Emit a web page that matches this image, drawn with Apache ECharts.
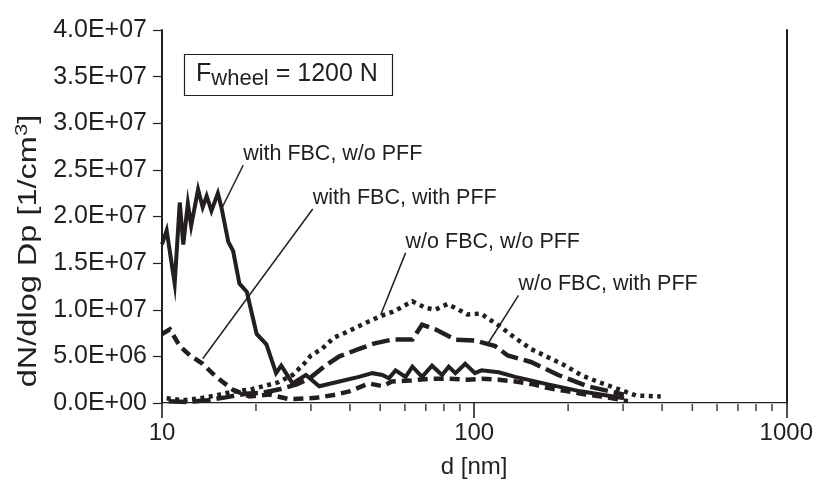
<!DOCTYPE html>
<html><head><meta charset="utf-8">
<script src="https://cdn.jsdelivr.net/npm/echarts@6/dist/echarts.min.js"></script>
<style>html,body{margin:0;padding:0;background:#fff}#c{width:816px;height:484px}</style>
</head><body><div id="c"></div>
<script>
const FONT = '"Liberation Sans", Arial, Helvetica, sans-serif';
const INK = '#231f20';

// ---- data (d in nm, values in units of 1e6 1/cm3) ----
const seriesNames = ['with FBC, w/o PFF', 'with FBC, with PFF', 'w/o FBC, w/o PFF', 'w/o FBC, with PFF'];

const solidD = [10.0,10.35,10.98,11.4,11.7,12.1,12.4,13.05,13.5,13.9,14.4,15.1,15.5,16.3,16.9,17.7,18.7,20.1,21.6,23.2,24.1,26.2,28.9,31.9,37.0,42.7,47.2,50.8,53.3,56.0,60.3,63.4,68.1,73.3,78.9,82.9,87.1,93.6,100.6,105.6,119.8,135.5,172.5,219.6,302];
const solidV = [17.0,18.5,12.8,21.5,17.0,21.4,19.0,22.9,21.0,22.2,20.6,22.5,21.0,17.3,16.3,12.8,11.9,7.4,6.3,3.2,4.0,2.1,3.0,1.8,2.3,2.8,3.2,3.0,2.65,3.5,2.8,3.9,2.8,4.0,3.0,3.9,3.2,4.2,3.2,3.5,3.3,2.8,2.0,1.25,0.5];

const dashD = [10.0,10.6,11.4,12.3,13.5,14.9,16.9,19.1,22.1,25.6,31.1,36.1,39.8,46.0,50.8,54.5,62,72,83,95,106,120,136,155,173,195,220,255,289,311];
const dashV = [7.4,7.9,6.1,5.1,4.2,2.8,1.4,0.7,0.9,0.4,0.55,0.9,1.25,2.1,1.8,2.3,2.4,2.6,2.6,2.5,2.6,2.5,2.3,2.0,1.6,1.3,1.0,0.7,0.4,0.2];

const dotD = [10.35,11.7,13.2,14.8,16.8,19.5,23.5,26.2,28.5,30.0,32.5,35.5,39,45,50,55,58,63.4,70,75,82,87,95,105,120,135,152,175,196,220,248,295,330,396];
const dotV = [0.5,0.3,0.5,0.8,1.2,1.5,2.2,3.0,4.2,5.1,5.8,7.0,7.6,8.6,9.3,9.8,10.2,10.9,10.2,10.0,10.6,10.2,9.5,9.6,8.3,7.0,5.8,4.8,4.0,3.0,2.3,1.4,0.8,0.7];

const longD = [10.5,12,14,16,18.5,21,24,27,29.7,33.5,37,42.8,48,54.6,63.4,68.1,75.1,87,100.6,116.8,128,152,186,231,302];
const longV = [0.2,0.1,0.3,0.6,1.0,1.1,1.5,2.0,2.65,4.05,5.0,5.8,6.4,6.8,6.8,8.4,7.9,6.8,6.7,6.1,5.1,4.4,3.0,1.8,0.9];

const yTicks = [0,5e6,1e7,1.5e7,2e7,2.5e7,3e7,3.5e7,4e7];
const xMinorTicks = [20,30,40,50,60,70,80,90,200,300,400,500,600,700,800,900];

// annotation leader lines: [labelAnchor [d, value], pointedAt [d, value]]
const leaders = [
  [[18.2, 2.55e7], [15.5, 2.08e7]],
  [[30.4, 2.08e7], [13.5, 4.74e6]],
  [[60.3, 1.61e7], [50.2, 9.46e6]],
  [[138.7, 1.155e7], [111.3, 6.49e6]]
];

const SCALE = 1e6;
const pairs = (d, v) => d.map((x, i) => [x, v[i] * SCALE]);

function sci(v) {
  if (v === 0) return '0.0E+00';
  const e = Math.floor(Math.log10(v) + 1e-9);
  const m = v / Math.pow(10, e);
  return m.toFixed(1) + 'E+' + String(e).padStart(2, '0');
}

const lineTypes = ['solid', [10, 6], [4, 4.5], [18, 6]];
const lineWidths = [4, 4.5, 4.5, 4.5];
const datas = [pairs(solidD, solidV), pairs(dashD, dashV), pairs(dotD, dotV), pairs(longD, longV)];

const series = datas.map((data, i) => ({
  name: seriesNames[i],
  type: 'line',
  data: data,
  symbol: 'none',
  animation: false,
  lineStyle: { color: INK, width: lineWidths[i], type: lineTypes[i], cap: 'butt', join: 'miter' },
  markLine: {
    silent: true, animation: false, symbol: ['none', 'none'],
    label: { show: false },
    lineStyle: { color: INK, width: 1.5, type: 'solid' },
    data: [[{ coord: leaders[i][0] }, { coord: leaders[i][1] }]]
  },
  markPoint: {
    silent: true, animation: false, symbol: 'circle', symbolSize: 0,
    itemStyle: { color: 'transparent' },
    label: {
      show: true, position: 'right', distance: 0, offset: [0, -11],
      formatter: seriesNames[i], color: INK, fontFamily: FONT, fontSize: 21.5
    },
    data: [{ coord: leaders[i][0] }]
  }
}));

series.push({
  name: 'minorTicks', type: 'scatter', silent: true, animation: false, clip: false,
  data: xMinorTicks.map(v => [v, 0]),
  symbol: 'rect', symbolSize: [1.6, 7], symbolOffset: [0, 4.5],
  itemStyle: { color: INK }, z: 5
});

const chart = echarts.init(document.getElementById('c'), null, { renderer: 'canvas' });
chart.setOption({
  backgroundColor: '#fff',
  animation: false,
  textStyle: { fontFamily: FONT },
  grid: { left: 162, top: 30, width: 626, height: 382, containLabel: false },
  xAxis: [{
    type: 'log', logBase: 10, min: 10, max: 1000,
    name: 'd [nm]', nameLocation: 'middle', nameGap: 52,
    nameTextStyle: { color: INK, fontSize: 24, fontFamily: FONT },
    axisLine: { show: true, lineStyle: { color: INK, width: 2 } },
    axisTick: { show: true, length: 15, lineStyle: { color: INK, width: 1.6 } },
    axisLabel: { color: INK, fontSize: 24, margin: 18, fontFamily: FONT, formatter: v => String(Math.round(v)) },
    splitLine: { show: false }
  }, {
    type: 'log', logBase: 10, min: 10, max: 1000, position: 'top',
    axisLine: { show: true, lineStyle: { color: '#c8c8c8', width: 1 } },
    axisTick: { show: false }, axisLabel: { show: false }, splitLine: { show: false }
  }],
  yAxis: [{
    type: 'value', min: 0, max: 4e7, interval: 5e6,
    axisLine: { show: true, lineStyle: { color: INK, width: 2 } },
    axisTick: { show: true, length: 9, lineStyle: { color: INK, width: 1.2 } },
    axisLabel: { color: INK, fontSize: 25, margin: 15, fontFamily: FONT, formatter: v => sci(v) },
    splitLine: { show: false }
  }, {
    type: 'value', min: 0, max: 4e7, position: 'right',
    axisLine: { show: true, lineStyle: { color: INK, width: 2 } },
    axisTick: { show: false }, axisLabel: { show: false }, splitLine: { show: false }
  }],
  graphic: [{
    type: 'text', x: 28, y: 251, rotation: Math.PI / 2, scaleX: 1.3,
    style: {
      text: '{m|dN/dlog Dp [1/cm}{s|3}{m|]}',
      align: 'center', verticalAlign: 'middle', fill: INK,
      rich: {
        m: { fontSize: 25, fontFamily: FONT, fill: INK, lineHeight: 28, verticalAlign: 'bottom' },
        s: { fontSize: 17, fontFamily: FONT, fill: INK, lineHeight: 20, verticalAlign: 'top' }
      }
    }
  }, {
    type: 'rect', shape: { x: 184.5, y: 54.5, width: 208, height: 41 },
    style: { fill: '#fff', stroke: INK, lineWidth: 1.2 }, z: 10
  }, {
    type: 'text', x: 196, y: 62, z: 11,
    style: {
      text: '{m|F}{s|wheel}{m| = 1200 N}', fill: INK, align: 'left', verticalAlign: 'top',
      rich: {
        m: { fontSize: 25, fontFamily: FONT, fill: INK, lineHeight: 28, verticalAlign: 'top' },
        s: { fontSize: 22, fontFamily: FONT, fill: INK, lineHeight: 24, verticalAlign: 'bottom', padding: [10, 0, 0, 0] }
      }
    }
  }],
  series: series
});
</script></body></html>
